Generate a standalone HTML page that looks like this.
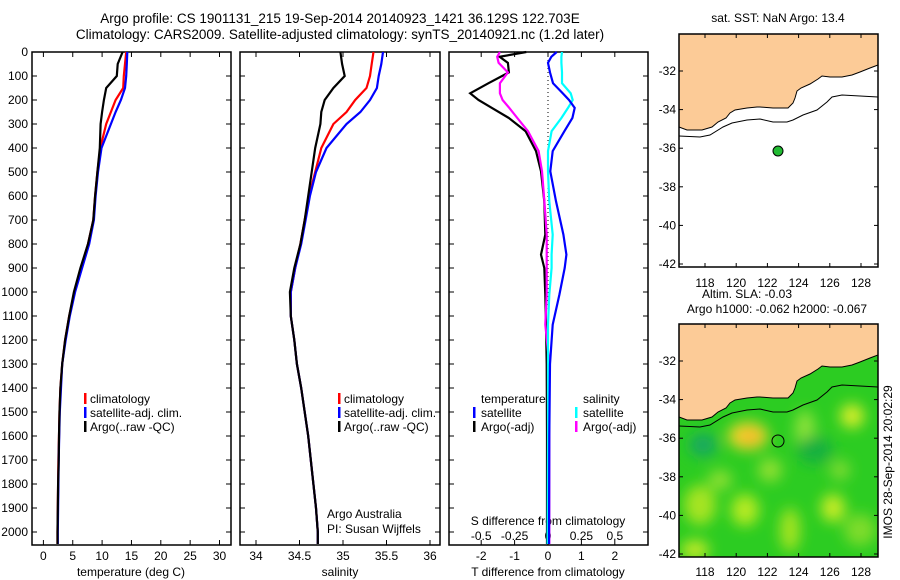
<!DOCTYPE html>
<html><head><meta charset="utf-8"><style>
body{margin:0;background:#fff;}
svg{display:block;font-family:"Liberation Sans",sans-serif;}
text{font-size:12px;fill:#000;}
</style></head><body>
<svg id="fig" width="900" height="580" viewBox="0 0 900 580">
<defs>
<filter id="blur" x="-20%" y="-20%" width="140%" height="140%"><feGaussianBlur stdDeviation="7"/></filter>
<clipPath id="mapclip2"><rect x="679" y="324" width="199" height="233"/></clipPath>
</defs>
<text x="340" y="23" text-anchor="middle" style="font-size:13.5px">Argo profile: CS 1901131_215 19-Sep-2014 20140923_1421 36.129S 122.703E</text>
<text x="340" y="39" text-anchor="middle" style="font-size:13.5px">Climatology: CARS2009. Satellite-adjusted climatology: synTS_20140921.nc (1.2d later)</text>

<g>
<text x="778" y="22" text-anchor="middle">sat. SST: NaN Argo: 13.4</text>
<rect x="679" y="34" width="199" height="233" fill="#fff"/>
<polygon fill="#fccb97" points="679,34 878,34 878,65 870,68 860,72 852,75 842,77 830,77 822,76 818,79 810,84 801,88 797,91 795,98 793,103 788,108 780,108 773,108 760,107 757,107 747,108 735,110 730,113 726,118 718,122 712,127 702,130 687,130 679,127"/>
<polyline fill="none" stroke="#000" stroke-width="1" points="679,127 687,130 702,130 712,127 718,122 726,118 730,113 735,110 747,108 757,107 760,107 773,108 780,108 788,108 793,103 795,98 797,91 801,88 810,84 818,79 822,76 830,77 842,77 852,75 860,72 870,68 878,65"/>
<polyline fill="none" stroke="#000" stroke-width="1" points="679,136 700,137 710,135 723,127 732,123 747,120 760,119 773,122 787,122 793,120 803,115 817,110 827,102 832,97 842,95 860,96 878,97"/>
<circle cx="778" cy="151" r="5" fill="#22bb33" stroke="#000" stroke-width="1"/>
<rect x="679" y="34" width="199" height="233" fill="none" stroke="#000" stroke-width="1.5"/>
</g>
<g>
<text x="747" y="298" text-anchor="middle">Altim. SLA: -0.03</text>
<text x="777" y="313" text-anchor="middle">Argo h1000: -0.062 h2000: -0.067</text>
<g clip-path="url(#mapclip2)">
<rect x="679" y="324" width="199" height="233" fill="#2ccc22"/>
<g filter="url(#blur)">
<ellipse cx="748" cy="436" rx="20" ry="14" fill="#f2d72a"/>
<ellipse cx="750" cy="437" rx="11" ry="7" fill="#f5b52a"/>
<ellipse cx="852" cy="416" rx="12" ry="12" fill="#d8ee2a"/>
<ellipse cx="703" cy="445" rx="14" ry="12" fill="#18a860"/>
<ellipse cx="745" cy="510" rx="14" ry="16" fill="#b5ea20"/>
<ellipse cx="700" cy="505" rx="16" ry="20" fill="#a6e420"/>
<ellipse cx="833" cy="508" rx="12" ry="14" fill="#c8ec25"/>
<ellipse cx="790" cy="530" rx="10" ry="22" fill="#a6e420"/>
<ellipse cx="695" cy="550" rx="14" ry="10" fill="#c3ea25"/>
<ellipse cx="805" cy="430" rx="10" ry="20" fill="#8ee23a"/>
<ellipse cx="815" cy="450" rx="18" ry="14" fill="#18b040"/>
<ellipse cx="860" cy="530" rx="16" ry="16" fill="#7edc2a"/>
<ellipse cx="770" cy="470" rx="12" ry="12" fill="#90e030"/>
<ellipse cx="720" cy="480" rx="12" ry="10" fill="#8ee030"/>
<ellipse cx="840" cy="470" rx="10" ry="10" fill="#80dc30"/>
</g>
<polygon fill="#fccb97" points="679,324 878,324 878,355 870,358 860,362 852,365 842,367 830,367 822,366 818,369 810,374 801,378 797,381 795,388 793,393 788,398 780,398 773,398 760,397 757,397 747,398 735,400 730,403 726,408 718,412 712,417 702,420 687,420 679,417"/>
<polyline fill="none" stroke="#000" stroke-width="1" points="679,417 687,420 702,420 712,417 718,412 726,408 730,403 735,400 747,398 757,397 760,397 773,398 780,398 788,398 793,393 795,388 797,381 801,378 810,374 818,369 822,366 830,367 842,367 852,365 860,362 870,358 878,355"/>
<polyline fill="none" stroke="#000" stroke-width="1" points="679,426 700,427 710,425 723,417 732,413 747,410 760,409 773,412 787,412 793,410 803,405 817,400 827,392 832,387 842,385 860,386 878,387"/>
</g>
<circle cx="778" cy="441" r="6" fill="none" stroke="#000" stroke-width="1"/>
<rect x="679" y="324" width="199" height="233" fill="none" stroke="#000" stroke-width="1.5"/>
<text transform="translate(892,462) rotate(-90)" text-anchor="middle">IMOS 28-Sep-2014 20:02:29</text>
</g>
<g id="plots"></g>
</svg>
<script>
const depth = [0,50,100,150,200,250,300,400,500,600,700,800,900,1000,1100,1200,1300,1400,1500,1600,1700,1800,1900,2000,2050];
const tempArgo = [13.5,12.65,12.5,10.7,10.3,10.0,9.75,9.6,9.2,8.8,8.5,7.6,6.3,5.2,4.4,3.7,3.2,2.9,2.75,2.65,2.6,2.5,2.45,2.4,2.4];
const tempClim = [14.1,13.9,13.7,13.6,12.3,11.5,10.7,9.7,9.2,8.8,8.5,7.6,6.4,5.3,4.4,3.7,3.2,2.9,2.75,2.65,2.55,2.5,2.45,2.4,2.4];
const tempSat = [14.3,14.2,14.1,13.9,13.2,12.3,11.5,9.9,9.3,8.9,8.6,7.8,6.6,5.4,4.5,3.8,3.2,3.0,2.8,2.7,2.6,2.55,2.5,2.45,2.45];
const salArgo = [34.97,34.99,35.02,34.89,34.79,34.75,34.74,34.68,34.64,34.6,34.56,34.51,34.44,34.39,34.40,34.44,34.47,34.52,34.56,34.6,34.63,34.66,34.69,34.71,34.71];
const salClim = [35.35,35.33,35.31,35.27,35.14,35.04,34.89,34.75,34.68,34.61,34.56,34.51,34.45,34.40,34.40,34.44,34.47,34.52,34.56,34.6,34.63,34.66,34.69,34.71,34.71];
const salSat = [35.46,35.44,35.41,35.39,35.31,35.2,35.04,34.81,34.69,34.62,34.57,34.52,34.45,34.40,34.40,34.44,34.47,34.52,34.56,34.6,34.63,34.66,34.69,34.71,34.71];
const diffDepth = [0,20,45,85,130,172,200,233,275,330,413,497,622,761,844,900,1011,1136,1300,1600,2050];
const tDiffArgo = [-0.65,-1.45,-1.2,-1.17,-1.78,-2.33,-2.08,-1.68,-1.17,-0.67,-0.36,-0.21,-0.11,-0.08,-0.21,-0.11,-0.08,-0.06,-0.04,-0.03,-0.03];
const sDiffArgo = [-0.36,-0.38,-0.37,-0.30,-0.36,-0.36,-0.34,-0.29,-0.23,-0.15,-0.07,-0.045,-0.027,-0.01,-0.01,-0.01,-0.01,-0.02,0.01,0.01,0.01];
const tDiffSat = [0.26,0.1,0.0,0.06,0.15,0.44,0.63,0.8,0.73,0.49,0.14,0.07,0.24,0.46,0.55,0.5,0.34,0.14,0.06,0.04,0.03];
const sDiffSat = [0.105,0.1,0.1,0.105,0.105,0.17,0.185,0.15,0.1,0.027,0,0,0.01,0.035,0.027,0.027,0.01,0,0,0,-0.003];
const depthTicks = [0,100,200,300,400,500,600,700,800,900,1000,1100,1200,1300,1400,1500,1600,1700,1800,1900,2000];
const tempTicks = [0,5,10,15,20,25,30];
const salTicks = [34,34.5,35,35.5,36];
const tDiffTicks = [-2,-1,0,1,2];
const sDiffTicks = [-0.5,-0.25,0,0.25,0.5];
const sDiffTickLabels = ['-0.5','-0.25','0','0.25','0.5'];
const latTicks = [-32,-34,-36,-38,-40,-42];
const lonTicks = [118,120,122,124,126,128];

const NS='http://www.w3.org/2000/svg';
const root=document.getElementById('plots');
function el(tag,attrs,parent){const e=document.createElementNS(NS,tag);for(const k in attrs)e.setAttribute(k,attrs[k]);(parent||root).appendChild(e);return e;}
const TOP=52, BOT=545;
const yD = d => TOP + d*0.24;
const xT = v => 43.4 + v*5.87;
const xS = v => 256 + (v-34)*87;
const xTD = v => 548 + v*33.4;
const xSD = v => 548 + v*133.6;

function line(xs, xf, ds, color, name){
  const pts = xs.map((v,i)=> xf(v).toFixed(1)+','+yD(ds[i]).toFixed(1)).join(' ');
  const p = el('polyline',{points:pts,fill:'none',stroke:color,'stroke-width':2.2});
  
  
}
function txt(x,y,s,anchor,name){
  const t=el('text',{x:x,y:y,'text-anchor':anchor||'start'}); t.textContent=s;
  
  
  return t;
}
function frame(x0,x1,name){
  const r=el('rect',{x:x0,y:TOP,width:x1-x0,height:BOT-TOP,fill:'none',stroke:'#000','stroke-width':1.5});
  
  
}
function xticks(vals,xf,labels,name){
  vals.forEach((v,i)=>{
    const x=xf(v);
    el('line',{x1:x,x2:x,y1:BOT,y2:BOT-5,stroke:'#000'});
    el('line',{x1:x,x2:x,y1:TOP,y2:TOP+5,stroke:'#000'});
    txt(x,560,labels?labels[i]:String(v),'middle',name);
  });
}
function yticks(x0,x1){
  depthTicks.forEach(d=>{
    el('line',{x1:x0,x2:x0+5,y1:yD(d),y2:yD(d),stroke:'#000'});
    el('line',{x1:x1,x2:x1-5,y1:yD(d),y2:yD(d),stroke:'#000'});
  });
}
function legendBar(x,y,color,name){
  const b=el('rect',{x:x,y:y-10,width:2.5,height:11,fill:color});
  
  
}

depthTicks.forEach(d=>txt(28,yD(d)+4,String(d),'end','depth-tick-label'));

frame(32,231,'temperature-panel-frame'); yticks(32,231);
xticks(tempTicks,xT,null,'temperature-tick-label');
line(tempClim,xT,depth,'#ff0000','temperature-climatology-line');
line(tempSat,xT,depth,'#0000ff','temperature-satellite-line');
line(tempArgo,xT,depth,'#000','temperature-argo-line');
txt(131,576,'temperature (deg C)','middle','temperature-axis-title');
[['climatology','#f00'],['satellite-adj. clim.','#00f'],['Argo(..raw -QC)','#000']].forEach((l,i)=>{
  legendBar(84,403+i*14,l[1],'temperature-legend-marker');
  txt(90,403+i*14,l[0],'start','temperature-legend-label');
});

frame(240,440,'salinity-panel-frame'); yticks(240,440);
xticks(salTicks,xS,null,'salinity-tick-label');
line(salClim,xS,depth,'#ff0000','salinity-climatology-line');
line(salSat,xS,depth,'#0000ff','salinity-satellite-line');
line(salArgo,xS,depth,'#000','salinity-argo-line');
txt(340,576,'salinity','middle','salinity-axis-title');
[['climatology','#f00'],['satellite-adj. clim.','#00f'],['Argo(..raw -QC)','#000']].forEach((l,i)=>{
  legendBar(338,403+i*14,l[1],'salinity-legend-marker');
  txt(344,403+i*14,l[0],'start','salinity-legend-label');
});
txt(327,518,'Argo Australia','start','credit-line-1');
txt(327,533,'PI: Susan Wijffels','start','credit-line-2');

frame(449,648,'difference-panel-frame'); yticks(449,648);
xticks(tDiffTicks,xTD,null,'t-difference-tick-label');
const dz=el('line',{x1:548,x2:548,y1:TOP,y2:BOT,stroke:'#000','stroke-dasharray':'1,3'});


sDiffTicks.forEach((v,i)=>txt(xSD(v),540,sDiffTickLabels[i],'middle','s-difference-tick-label'));
txt(548,525,'S difference from climatology','middle','s-difference-axis-title');
txt(548,576,'T difference from climatology','middle','t-difference-axis-title');
line(tDiffArgo,xTD,diffDepth,'#000','t-diff-argo-line');
line(sDiffArgo,xSD,diffDepth,'#ff00ff','s-diff-argo-line');
line(sDiffSat,xSD,diffDepth,'#00ffff','s-diff-satellite-line');
line(tDiffSat,xTD,diffDepth,'#0000ff','t-diff-satellite-line');
txt(481,403,'temperature','start','legend-temperature-heading');
txt(583,403,'salinity','start','legend-salinity-heading');
legendBar(473,417,'#00f','legend-t-satellite-marker'); txt(481,417,'satellite','start','legend-t-satellite-label');
legendBar(473,431,'#000','legend-t-argo-marker'); txt(481,431,'Argo(-adj)','start','legend-t-argo-label');
legendBar(575,417,'#0ff','legend-s-satellite-marker'); txt(583,417,'satellite','start','legend-s-satellite-label');
legendBar(575,431,'#f0f','legend-s-argo-marker'); txt(583,431,'Argo(-adj)','start','legend-s-argo-label');

const lonX = v => 705 + (v-118)*15.6;
[[34,267,71,19.3,287],[324,557,361,19.3,576]].forEach((m,mi)=>{
  const [top,bot,y32,sc,ly]=m;
  latTicks.forEach(v=>{
    const y=y32+(-32-v)*sc;
    el('line',{x1:679,x2:683,y1:y,y2:y,stroke:'#000'});
    el('line',{x1:878,x2:874,y1:y,y2:y,stroke:'#000'});
    txt(676,y+4,String(v),'end','map-latitude-tick-label');
  });
  lonTicks.forEach(v=>{
    const x=lonX(v);
    el('line',{x1:x,x2:x,y1:bot,y2:bot-4,stroke:'#000'});
    el('line',{x1:x,x2:x,y1:top,y2:top+4,stroke:'#000'});
    txt(x,ly,String(v),'middle','map-longitude-tick-label');
  });
});
</script>
</body></html>
